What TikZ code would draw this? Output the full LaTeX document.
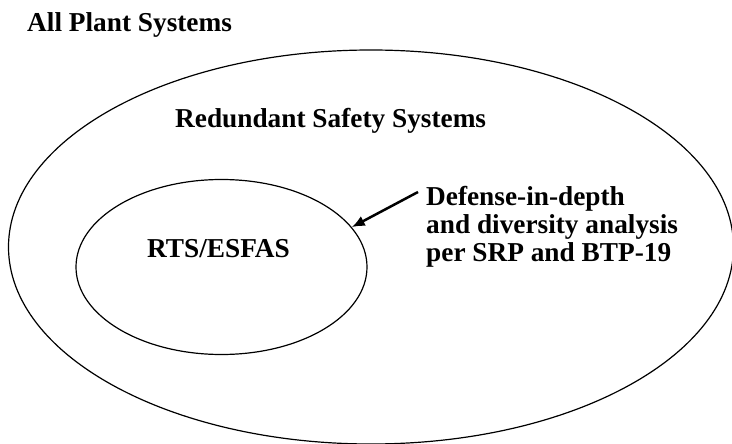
\documentclass[tikz,border=0pt]{standalone}
\usepackage{fontspec}
\setmainfont{Liberation Serif}
\usepackage{tikz}
\usetikzlibrary{arrows.meta,shapes.geometric}

\begin{document}
\begin{tikzpicture}[x=1pt,y=-1pt,>={Latex[length=13pt,width=11pt]},
    every node/.style={font=\fontsize{27.3}{28}\selectfont\bfseries,inner sep=0pt},
    ring/.style={draw,ellipse,line width=1.2pt}]
  \useasboundingbox (0,0) rectangle (732,444);
  \node[anchor=base west] (all) at (27,32) {All Plant Systems};
  \node[ring,minimum width=725pt,minimum height=394pt] (outer) at (371,247) {};
  \node[anchor=base west] (safety) at (175,128) {Redundant Safety Systems};
  \node[ring,minimum width=291pt,minimum height=175pt] (inner) at (221.5,267) {};
  \node[anchor=base west] (rts) at (147,257) {RTS/ESFAS};
  \node[anchor=base west,align=left] (did) at (426,261)
    {Defense-in-depth\\and diversity analysis\\per SRP and BTP-19};
  \coordinate (tail) at (418,192);
  \draw[->,line width=2.5pt] (tail) -- (inner.17);
\end{tikzpicture}
\end{document}
